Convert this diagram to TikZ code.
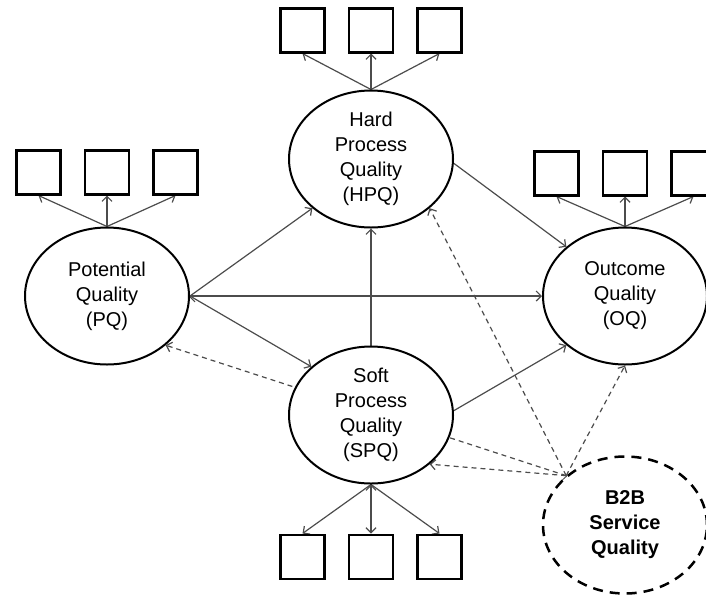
\documentclass[tikz,border=0pt]{standalone}
\usepackage{fontspec}
\setmainfont{Liberation Sans}
\usepackage{tikz}
\usetikzlibrary{positioning, arrows.meta, shapes.geometric, backgrounds}
\tikzset{>={Straight Barb[length=5pt,width=10pt]}}
\definecolor{linkgray}{gray}{0.3}

\begin{document}
\begin{tikzpicture}
    [x=1pt, y=-1pt,
     construct/.style={draw, ellipse, line width=2pt, fill=white, minimum width=164pt,
       minimum height=137pt, inner sep=0pt, align=center, font=\fontsize{20}{25}\selectfont},
     latent/.style={construct, dash pattern=on 10pt off 7pt, line width=2.5pt,
       font=\bfseries\fontsize{20}{25}\selectfont},
     indicator/.style={draw, line width=2.5pt, fill=white, minimum size=44pt, inner sep=0pt},
     link/.style={->, line width=1.2pt, linkgray},
     effect/.style={link, dash pattern=on 5pt off 4pt}]
    \useasboundingbox (0,0) rectangle (706,598);

    \node[construct] (pq) at (107,296) {Potential\\Quality\\(PQ)};
    \node[construct] (hpq) at (371,159) {Hard\\Process\\Quality\\(HPQ)};
    \node[construct] (spq) at (371,415) {Soft\\Process\\Quality\\(SPQ)};
    \node[construct] (oq) at (625,296) {Outcome\\Quality\\(OQ)};
    \node[latent] (b2b) at (625,525) {B2B\\Service\\Quality};

    \node[indicator, above=31pt of pq] (pq2) {};
    \node[indicator, left=22pt of pq2] (pq1) {};
    \node[indicator, right=22pt of pq2] (pq3) {};
    \node[indicator, above=36pt of hpq] (hpq2) {};
    \node[indicator, left=22pt of hpq2] (hpq1) {};
    \node[indicator, right=22pt of hpq2] (hpq3) {};
    \node[indicator, above=30pt of oq] (oq2) {};
    \node[indicator, left=22pt of oq2] (oq1) {};
    \node[indicator, right=22pt of oq2] (oq3) {};
    \node[indicator, below=49pt of spq] (spq2) {};
    \node[indicator, left=22pt of spq2] (spq1) {};
    \node[indicator, right=22pt of spq2] (spq3) {};

    \begin{scope}[on background layer]
    \draw[link] (pq.north) edge (pq1.south) edge (pq2.south) edge (pq3.south);
    \draw[link] (hpq.north) edge (hpq1.south) edge (hpq2.south) edge (hpq3.south);
    \draw[link] (oq.north) edge (oq1.south) edge (oq2.south) edge (oq3.south);
    \draw[link] (spq.south) edge (spq1.north) edge (spq2.north) edge (spq3.north);

    \draw[link] (pq.east) edge (hpq.220) edge (oq.west) edge (spq.141);
    \draw[link] (spq.north) -- (hpq.south);
    \draw[link] (hpq.357) -- (oq.140);
    \draw[link] (spq.3) -- (oq.220);

    \draw[effect] (b2b.140) edge (pq.320) edge (hpq.320) edge (oq.south) edge (spq.320);
    \end{scope}
\end{tikzpicture}
\end{document}
